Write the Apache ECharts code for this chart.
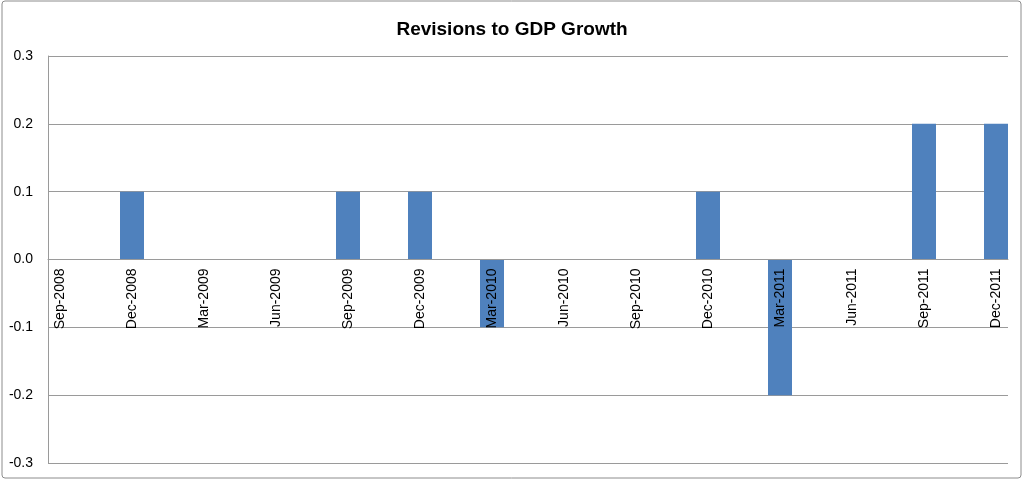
<!DOCTYPE html>
<html>
<head>
<meta charset="utf-8">
<script src="https://cdn.jsdelivr.net/npm/echarts@6/dist/echarts.min.js"></script>
<style>
  html, body { margin: 0; padding: 0; background: #fff; }
  #chart { width: 1024px; height: 481px; }
</style>
</head>
<body>
<div id="chart"></div>
<script>
const quarters = ['Sep-2008', 'Dec-2008', 'Mar-2009', 'Jun-2009', 'Sep-2009', 'Dec-2009', 'Mar-2010',
  'Jun-2010', 'Sep-2010', 'Dec-2010', 'Mar-2011', 'Jun-2011', 'Sep-2011', 'Dec-2011']
const revisions = [0, 0.1, 0, 0, 0.1, 0.1, -0.1, 0, 0, 0.1, -0.2, 0, 0.2, 0.2]
const yTicks = { min: -0.3, max: 0.3, step: 0.1 }

// Excel date axis: one slot per month, quarters every third slot
const slots = []
const slotValues = []
quarters.forEach((q, i) => {
  slots.push(q)
  slotValues.push(revisions[i])
  if (i < quarters.length - 1) {
    slots.push(q + '+1', q + '+2')
    slotValues.push(null, null)
  }
})

const gridTop = 56
const gridBottom = 18
const plotHeight = 481 - gridTop - gridBottom
// category axis sits on the zero line (half way, since the range is symmetric)
const zeroOffset = -plotHeight * yTicks.max / (yTicks.max - yTicks.min)

const chart = echarts.init(document.getElementById('chart'))
const gridColor = '#9a9a9a'

chart.setOption({
  animation: false,
  title: {
    text: 'Revisions to GDP Growth',
    left: 'center',
    top: 15,
    textStyle: { fontFamily: 'Liberation Sans', fontSize: 19, fontWeight: 'bold', color: '#000' }
  },
  graphic: [{
    type: 'rect',
    shape: { x: 2, y: 1, width: 1019, height: 477, r: 3 },
    style: { fill: null, stroke: '#8c8c8c', lineWidth: 1 },
    silent: true
  }],
  grid: { left: 48, right: 16, top: gridTop, bottom: gridBottom, containLabel: false, outerBoundsMode: 'none' },
  xAxis: {
    type: 'category',
    data: slots,
    position: 'bottom',
    offset: zeroOffset,
    z: 5,
    axisLine: { onZero: false, lineStyle: { color: gridColor, width: 1 } },
    axisTick: { show: false },
    axisLabel: {
      interval: 2,
      rotate: 90,
      margin: 9,
      color: '#000',
      fontFamily: 'Liberation Sans',
      fontSize: 14
    },
    splitLine: { show: false }
  },
  yAxis: {
    type: 'value',
    min: yTicks.min,
    max: yTicks.max,
    interval: yTicks.step,
    axisLine: { show: true, lineStyle: { color: gridColor } },
    axisTick: { show: false },
    axisLabel: {
      margin: 15,
      color: '#000',
      fontFamily: 'Liberation Sans',
      fontSize: 14,
      formatter: v => v.toFixed(1)
    },
    splitLine: { lineStyle: { color: gridColor, width: 1 } }
  },
  series: [{
    type: 'bar',
    data: slotValues,
    barCategoryGap: '0%',
    barGap: '0%',
    itemStyle: { color: '#4f81bd' }
  }]
})
</script>
</body>
</html>
